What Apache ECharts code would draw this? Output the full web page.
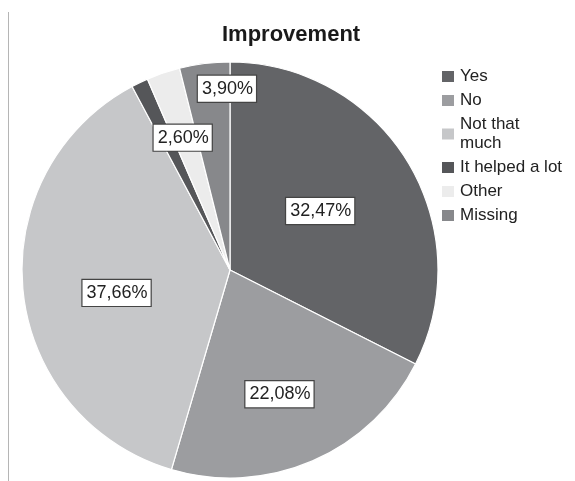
<!DOCTYPE html>
<html>
<head>
<meta charset="utf-8">
<script src="https://cdn.jsdelivr.net/npm/echarts@6/dist/echarts.min.js"></script>
<style>
html,body{margin:0;padding:0;background:#fff;}
#chart{width:575px;height:481px;}
</style>
</head>
<body>
<div id="chart"></div>
<script>
const categories = ['Yes', 'No', 'Not that much', 'It helped a lot', 'Other', 'Missing'];
const values = [32.47, 22.08, 37.66, 1.30, 2.60, 3.90];
const showLabel = [true, true, true, false, true, true];

const colors = ['#636467', '#9c9da0', '#c6c7c9', '#555659', '#ececec', '#87888b'];
const labelOffsets = [[-1, -3], [7, 26], [-7, 12], [0, 0], [-13, -31], [10, -75]];

const font = '"Liberation Sans", Arial, sans-serif';
const chart = echarts.init(document.getElementById('chart'), null, {renderer: 'canvas'});

const data = categories.map((name, i) => ({
  name: name,
  value: values[i],
  itemStyle: {color: colors[i]},
  label: {show: showLabel[i], offset: labelOffsets[i]}
}));

chart.setOption({
  animation: false,
  backgroundColor: '#ffffff',
  title: {
    text: 'Improvement',
    left: 217,
    top: 19,
    textStyle: {fontFamily: font, fontSize: 22, fontWeight: 'bold', color: '#1a1a1a'}
  },
  legend: {
    orient: 'vertical',
    left: 435,
    top: 62,
    icon: 'rect',
    itemWidth: 14,
    itemHeight: 13,
    itemGap: 5,
    data: categories,
    formatter: n => n === 'Not that much' ? 'Not that\nmuch' : n,
    textStyle: {fontFamily: font, fontSize: 17, lineHeight: 19, color: '#222'}
  },
  graphic: [{
    type: 'line',
    shape: {x1: 8.5, y1: 12, x2: 8.5, y2: 481},
    style: {stroke: '#b5b5b5', lineWidth: 1}
  }],
  series: [{
    type: 'pie',
    center: [230, 270],
    radius: [0, 208],
    startAngle: 90,
    clockwise: true,
    avoidLabelOverlap: false,
    labelLine: {show: false},
    itemStyle: {borderColor: '#ffffff', borderWidth: 1.2},
    label: {
      position: 'inside',
      formatter: p => p.value.toFixed(2).replace('.', ',') + '%',
      fontFamily: font,
      fontSize: 18,
      lineHeight: 21,
      color: '#222',
      backgroundColor: '#ffffff',
      borderColor: '#444',
      borderWidth: 1.2,
      padding: [3, 3, 2, 4]
    },
    emphasis: {disabled: true},
    data: data
  }]
});
</script>
</body>
</html>
